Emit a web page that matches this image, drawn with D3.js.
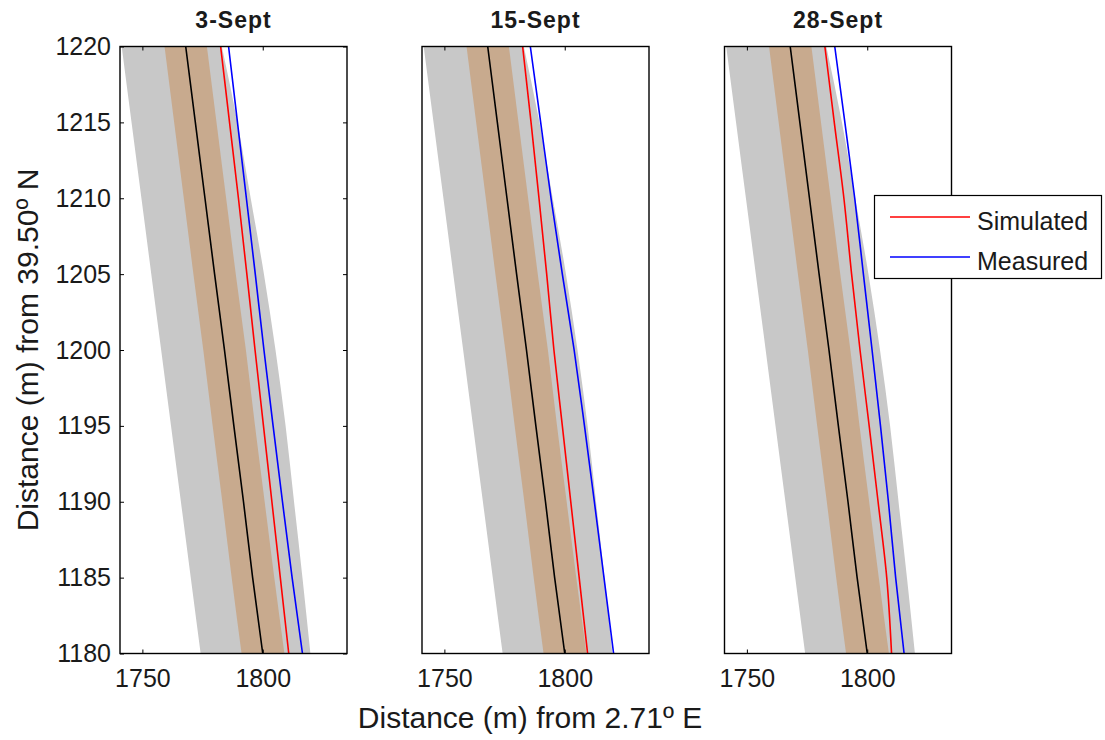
<!DOCTYPE html>
<html>
<head>
<meta charset="utf-8">
<script src="https://cdn.jsdelivr.net/npm/d3@7"></script>
<style>
  html, body { margin: 0; padding: 0; background: #fff; }
  svg { display: block; }
  text { font-family: "Liberation Sans", Arial, sans-serif; fill: #1a1a1a; }
</style>
</head>
<body>
<svg id="chart" width="1105" height="740"></svg>
<script>
// ---------- data ----------
const panelTitles = ["3-Sept", "15-Sept", "28-Sept"];
const northing = [1220, 1215, 1210, 1205, 1200, 1195, 1190, 1185, 1180];
const xTicks = [1750, 1800];
const yTicks = [1180, 1185, 1190, 1195, 1200, 1205, 1210, 1215, 1220];

// envelope (same in every panel)
const greyLow  = [1741.4, 1745.5, 1749.6, 1753.7, 1757.8, 1761.9, 1766.0, 1770.1, 1774.2];
const greyHigh = [1783.0, 1789.5, 1795.0, 1800.5, 1805.3, 1809.5, 1813.0, 1816.5, 1819.8];
const tanLow   = [1759.2, 1763.2, 1767.2, 1771.2, 1775.3, 1779.2, 1783.2, 1787.1, 1791.2];
const tanHigh  = [1776.8, 1780.8, 1784.8, 1788.8, 1793.0, 1796.8, 1800.8, 1804.8, 1809.0];
const center   = [1768.0, 1772.0, 1776.0, 1780.0, 1784.1, 1788.0, 1792.0, 1795.8, 1800.0];

// simulated (red) and measured (blue) per panel
const simulated3 = [1782.5, 1786.2, 1789.9, 1793.4, 1796.8, 1800.3, 1803.8, 1807.3, 1810.8];
const simulated15 = [1782.5, 1786.0, 1789.3, 1792.5, 1795.5, 1799.0, 1802.5, 1806.0, 1809.5];
const simulated28 = [1782.4, 1786.3, 1790.3, 1793.5, 1797.0, 1800.8, 1804.5, 1808.1, 1810.1];
const measured3 = [1785.8, 1789.5, 1793.2, 1796.9, 1800.5, 1804.3, 1808.2, 1812.2, 1816.5];
const measured15 = [1785.7, 1790.0, 1794.3, 1799.0, 1803.9, 1808.2, 1812.3, 1816.3, 1820.3];
const measured28 = [1786.5, 1790.7, 1794.8, 1798.4, 1802.0, 1805.5, 1808.8, 1811.8, 1815.3];

const simulatedAll = [simulated3, simulated15, simulated28];
const measuredAll = [measured3, measured15, measured28];

const legendLabels = ["Simulated", "Measured"];
const xLabel = "Distance (m) from 2.71º E";
const yLabel = "Distance (m) from 39.50º N";

// ---------- layout ----------
const svg = d3.select("#chart");
const panelLefts = [120, 422, 724.5];
const panelW = 227, plotTop = 46.5, plotBottom = 653.5;
const xDomain = [1740.7, 1835];
const yScale = d3.scaleLinear().domain([1180, 1220]).range([plotBottom, plotTop]);

const colGrey = "#c8c8c8", colTan = "#c8aa8e";
const tickFont = 25;

panelTitles.forEach((title, i) => {
  const x0 = panelLefts[i];
  const xScale = d3.scaleLinear().domain(xDomain).range([x0, x0 + panelW]);
  const g = svg.append("g");

  const clipId = "clip" + i;
  svg.append("clipPath").attr("id", clipId)
    .append("rect").attr("x", x0).attr("y", plotTop).attr("width", panelW).attr("height", plotBottom - plotTop);

  const plot = g.append("g").attr("clip-path", `url(#${clipId})`);

  const area = (lo, hi) => d3.area()
    .curve(d3.curveMonotoneY)
    .y((d, k) => yScale(northing[k]))
    .x0((d, k) => xScale(lo[k]))
    .x1((d, k) => xScale(hi[k]));

  plot.append("path").datum(northing).attr("d", area(greyLow, greyHigh)).attr("fill", colGrey);
  plot.append("path").datum(northing).attr("d", area(tanLow, tanHigh)).attr("fill", colTan);

  const line = d3.line().curve(d3.curveMonotoneY).x(d => xScale(d[0])).y(d => yScale(d[1]));
  const series = [
    [center, "#000000"],
    [simulatedAll[i], "#ff0000"],
    [measuredAll[i], "#0000ff"]
  ];
  series.forEach(([vals, col]) => {
    plot.append("path")
      .datum(vals.map((v, k) => [v, northing[k]]))
      .attr("d", line).attr("fill", "none").attr("stroke", col).attr("stroke-width", 1.6);
  });

  // frame
  g.append("rect").attr("x", x0).attr("y", plotTop).attr("width", panelW).attr("height", plotBottom - plotTop)
    .attr("fill", "none").attr("stroke", "#000").attr("stroke-width", 1.4);

  // x axes (bottom with labels, top mirror)
  const axB = g.append("g").attr("transform", `translate(0,${plotBottom})`)
    .call(d3.axisBottom(xScale).tickValues(xTicks).tickSizeInner(-4).tickSizeOuter(0).tickPadding(16).tickFormat(d3.format("d")));
  axB.select(".domain").remove();
  axB.selectAll("text").attr("font-size", tickFont).attr("font-family", "Liberation Sans, Arial, sans-serif").attr("fill", "#1a1a1a");
  const axT = g.append("g").attr("transform", `translate(0,${plotTop})`)
    .call(d3.axisTop(xScale).tickValues(xTicks).tickSizeInner(-4).tickSizeOuter(0).tickFormat(""));
  axT.select(".domain").remove();

  if (i === 0) {
    const axL = g.append("g").attr("transform", `translate(${x0},0)`)
      .call(d3.axisLeft(yScale).tickValues(yTicks).tickSizeInner(-4).tickSizeOuter(0).tickPadding(9).tickFormat(d3.format("d")));
    axL.select(".domain").remove();
    axL.selectAll("text").attr("font-size", tickFont).attr("font-family", "Liberation Sans, Arial, sans-serif").attr("fill", "#1a1a1a");
    const axR = g.append("g").attr("transform", `translate(${x0 + panelW},0)`)
      .call(d3.axisRight(yScale).tickValues(yTicks).tickSizeInner(-4).tickSizeOuter(0).tickFormat(""));
    axR.select(".domain").remove();
  }

  g.append("text").attr("x", x0 + panelW / 2).attr("y", 28)
    .attr("text-anchor", "middle").attr("font-size", 23).attr("font-weight", "bold")
    .attr("letter-spacing", 1).attr("fill", "#000").text(title);
});

// axis titles
svg.append("text").attr("x", 530).attr("y", 728).attr("text-anchor", "middle")
  .attr("font-size", 30).text(xLabel);
svg.append("text").attr("transform", `translate(38,350) rotate(-90)`).attr("text-anchor", "middle")
  .attr("font-size", 30).text(yLabel);

// legend
const lg = svg.append("g");
lg.append("rect").attr("x", 874.5).attr("y", 195.5).attr("width", 227).attr("height", 83)
  .attr("fill", "#fff").attr("stroke", "#000").attr("stroke-width", 1.2);
const legendColors = ["#ff0000", "#0000ff"];
const legendY = d3.scalePoint().domain(legendLabels).range([217, 257]);
legendLabels.forEach((lab, k) => {
  lg.append("line").attr("x1", 890).attr("x2", 970).attr("y1", legendY(lab)).attr("y2", legendY(lab))
    .attr("stroke", legendColors[k]).attr("stroke-width", 1.6);
  lg.append("text").attr("x", 977).attr("y", legendY(lab) + 13).attr("font-size", 25).text(lab);
});
</script>
</body>
</html>
